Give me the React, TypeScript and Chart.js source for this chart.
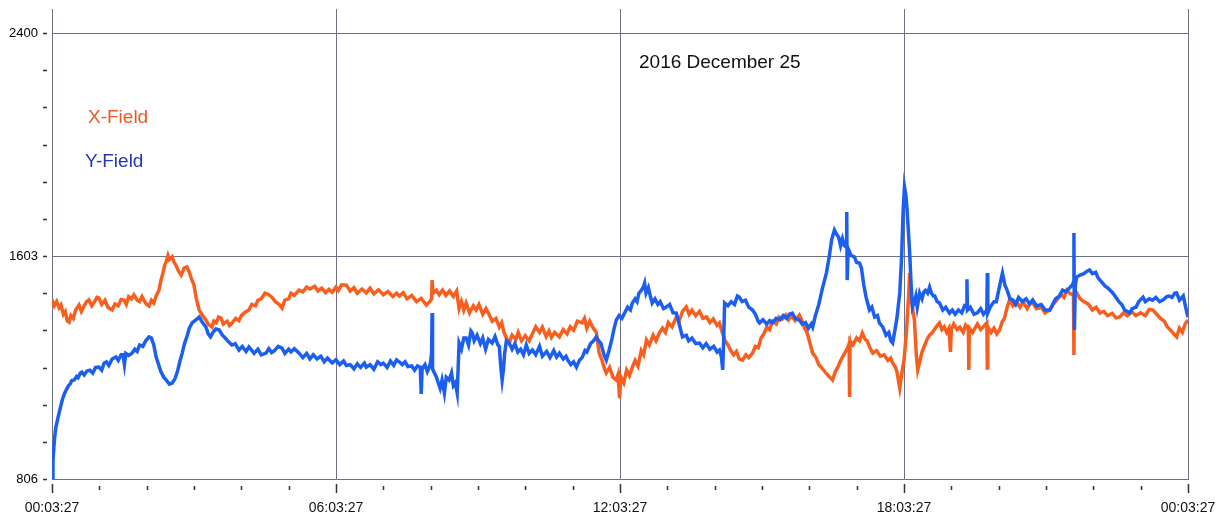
import React, { useEffect, useRef } from "react";
import { Chart, registerables } from "chart.js";

Chart.register(...registerables);

// ---------- DATA ----------
const X_TICK_LABELS = ["00:03:27", "06:03:27", "12:03:27", "18:03:27", "00:03:27"];
const Y_LABEL_VALUES = [806, 1603, 2400];
const CHART_TITLE = "2016 December 25";
const SERIES_NAMES = ["X-Field", "Y-Field"];

// X-Field (orange): [hours since 00:03:27, field value]
const X_FIELD_SAMPLES: number[][] = [
  [0, 1446], [0.05, 1425], [0.1, 1440], [0.15, 1418], [0.19, 1428], [0.24, 1395], [0.28, 1405], [0.32, 1372], [0.36, 1367], [0.4, 1390],
  [0.45, 1380], [0.5, 1410], [0.57, 1428], [0.62, 1405], [0.68, 1425], [0.73, 1440], [0.78, 1446], [0.84, 1425], [0.9, 1440], [0.95, 1455],
  [0.99, 1453], [1.05, 1430], [1.12, 1445], [1.18, 1420], [1.27, 1410], [1.33, 1432], [1.4, 1425], [1.46, 1448], [1.52, 1446], [1.57, 1430],
  [1.62, 1458], [1.68, 1450], [1.73, 1464], [1.8, 1445], [1.85, 1440], [1.9, 1458], [1.95, 1442], [2.0, 1430], [2.05, 1424], [2.1, 1445],
  [2.15, 1435], [2.2, 1460], [2.26, 1481], [2.3, 1515], [2.34, 1540], [2.38, 1570], [2.41, 1582], [2.45, 1605], [2.48, 1590], [2.54, 1600],
  [2.58, 1580], [2.62, 1570], [2.67, 1550], [2.73, 1535], [2.79, 1560], [2.85, 1564], [2.9, 1545], [2.95, 1520], [3.0, 1499], [3.05, 1450],
  [3.11, 1410], [3.18, 1390], [3.25, 1375], [3.3, 1360], [3.38, 1349], [3.42, 1370], [3.47, 1365], [3.52, 1385], [3.57, 1381], [3.62, 1360],
  [3.7, 1370], [3.75, 1355], [3.81, 1364], [3.88, 1380], [3.95, 1372], [4.0, 1390], [4.08, 1402], [4.16, 1410], [4.22, 1430], [4.3, 1425],
  [4.35, 1445], [4.42, 1450], [4.5, 1470], [4.59, 1464], [4.65, 1455], [4.72, 1440], [4.8, 1430], [4.86, 1417], [4.92, 1445], [5.0, 1450],
  [5.05, 1470], [5.12, 1462], [5.22, 1481], [5.3, 1475], [5.38, 1492], [5.45, 1485], [5.55, 1495], [5.62, 1478], [5.7, 1488], [5.78, 1472],
  [5.85, 1484], [5.92, 1474], [6.0, 1492], [6.05, 1480], [6.12, 1500], [6.22, 1499], [6.3, 1478], [6.38, 1490], [6.45, 1470], [6.55, 1485],
  [6.64, 1471], [6.72, 1488], [6.8, 1468], [6.9, 1482], [7.0, 1465], [7.1, 1476], [7.2, 1458], [7.28, 1470], [7.34, 1460], [7.42, 1472],
  [7.5, 1450], [7.6, 1462], [7.7, 1440], [7.8, 1452], [7.91, 1428], [7.98, 1440], [8.02, 1450], [8.03, 1517], [8.05, 1470], [8.12, 1480],
  [8.18, 1465], [8.25, 1481], [8.32, 1462], [8.4, 1478], [8.48, 1458], [8.55, 1478], [8.6, 1415], [8.65, 1440], [8.7, 1410], [8.75, 1435],
  [8.82, 1400], [8.9, 1425], [8.96, 1410], [9.02, 1430], [9.1, 1395], [9.17, 1415], [9.24, 1392], [9.3, 1370], [9.38, 1380], [9.45, 1349],
  [9.5, 1365], [9.55, 1330], [9.6, 1310], [9.66, 1292], [9.72, 1320], [9.8, 1305], [9.85, 1330], [9.92, 1300], [10.0, 1318], [10.08, 1300],
  [10.15, 1325], [10.22, 1350], [10.3, 1330], [10.36, 1349], [10.44, 1315], [10.5, 1335], [10.55, 1312], [10.62, 1330], [10.72, 1314], [10.8, 1340],
  [10.88, 1325], [10.95, 1350], [11.02, 1338], [11.1, 1370], [11.2, 1364], [11.25, 1380], [11.3, 1345], [11.36, 1370], [11.42, 1349], [11.5, 1330],
  [11.56, 1256], [11.62, 1230], [11.67, 1200], [11.71, 1185], [11.78, 1205], [11.85, 1170], [11.92, 1160], [11.96, 1180], [11.99, 1095], [12.02, 1170],
  [12.08, 1150], [12.14, 1195], [12.2, 1175], [12.26, 1206], [12.32, 1230], [12.38, 1210], [12.45, 1265], [12.5, 1250], [12.56, 1303], [12.62, 1285],
  [12.7, 1320], [12.76, 1300], [12.83, 1328], [12.9, 1345], [12.96, 1330], [13.02, 1365], [13.1, 1350], [13.19, 1385], [13.25, 1370], [13.32, 1405],
  [13.4, 1421], [13.46, 1395], [13.52, 1410], [13.6, 1390], [13.68, 1405], [13.75, 1380], [13.83, 1385], [13.9, 1365], [13.97, 1378], [14.05, 1355],
  [14.1, 1364], [14.16, 1330], [14.22, 1300], [14.28, 1285], [14.34, 1265], [14.4, 1250], [14.46, 1262], [14.52, 1235], [14.59, 1231], [14.66, 1250],
  [14.72, 1240], [14.8, 1256], [14.86, 1280], [14.92, 1275], [14.98, 1310], [15.04, 1325], [15.1, 1349], [15.16, 1340], [15.22, 1370], [15.3, 1360],
  [15.36, 1385], [15.43, 1378], [15.5, 1392], [15.56, 1375], [15.62, 1390], [15.7, 1372], [15.79, 1392], [15.85, 1370], [15.9, 1345], [15.95, 1330],
  [16.0, 1300], [16.07, 1256], [16.14, 1240], [16.2, 1215], [16.28, 1200], [16.35, 1185], [16.42, 1172], [16.49, 1160], [16.55, 1190], [16.6, 1205],
  [16.65, 1225], [16.7, 1242], [16.76, 1260], [16.81, 1275], [16.84, 1290], [16.85, 1099], [16.86, 1300], [16.92, 1285], [17.0, 1310], [17.06, 1300],
  [17.12, 1328], [17.18, 1305], [17.22, 1300], [17.28, 1275], [17.34, 1256], [17.42, 1265], [17.5, 1245], [17.58, 1250], [17.66, 1230], [17.72, 1238],
  [17.76, 1221], [17.82, 1205], [17.85, 1190], [17.88, 1160], [17.91, 1131], [17.95, 1180], [18.0, 1230], [18.05, 1328], [18.1, 1470], [18.12, 1542],
  [18.15, 1450], [18.22, 1374], [18.26, 1250], [18.29, 1196], [18.34, 1230], [18.38, 1260], [18.44, 1285], [18.48, 1303], [18.54, 1320], [18.6, 1330],
  [18.68, 1350], [18.75, 1364], [18.8, 1340], [18.85, 1350], [18.9, 1330], [18.95, 1345], [18.98, 1260], [19.0, 1340], [19.05, 1360], [19.12, 1340],
  [19.18, 1349], [19.25, 1330], [19.3, 1355], [19.36, 1340], [19.37, 1196], [19.38, 1345], [19.45, 1330], [19.55, 1360], [19.62, 1340], [19.7, 1355],
  [19.75, 1364], [19.76, 1203], [19.77, 1350], [19.84, 1330], [19.9, 1345], [19.96, 1325], [20.02, 1339], [20.08, 1370], [20.12, 1380], [20.18, 1420],
  [20.23, 1446], [20.3, 1425], [20.38, 1440], [20.45, 1420], [20.52, 1438], [20.6, 1415], [20.66, 1432], [20.72, 1435], [20.8, 1415], [20.9, 1420],
  [20.98, 1400], [21.08, 1410], [21.15, 1430], [21.25, 1450], [21.32, 1465], [21.38, 1455], [21.44, 1481], [21.5, 1470], [21.56, 1465], [21.58, 1460],
  [21.59, 1249], [21.6, 1470], [21.65, 1471], [21.72, 1450], [21.8, 1440], [21.9, 1430], [21.98, 1410], [22.06, 1420], [22.14, 1399], [22.22, 1405],
  [22.3, 1390], [22.4, 1398], [22.48, 1382], [22.56, 1385], [22.64, 1400], [22.72, 1390], [22.8, 1405], [22.9, 1390], [23.0, 1400], [23.1, 1390],
  [23.18, 1412], [23.26, 1410], [23.34, 1395], [23.42, 1380], [23.5, 1370], [23.56, 1350], [23.62, 1340], [23.7, 1325], [23.76, 1314], [23.82, 1345],
  [23.88, 1330], [23.94, 1360], [24, 1374],
];

// Y-Field (blue): [hours since 00:03:27, field value]
const Y_FIELD_SAMPLES: number[][] = [
  [0, 806], [0.02, 870], [0.04, 920], [0.06, 960], [0.08, 990], [0.12, 1020], [0.15, 1042], [0.19, 1070], [0.22, 1090], [0.26, 1110],
  [0.3, 1124], [0.35, 1140], [0.38, 1145], [0.42, 1158], [0.47, 1160], [0.52, 1172], [0.55, 1168], [0.6, 1185], [0.63, 1188], [0.68, 1178],
  [0.74, 1192], [0.8, 1195], [0.86, 1185], [0.92, 1205], [0.99, 1206], [1.05, 1195], [1.1, 1220], [1.15, 1225], [1.2, 1212], [1.27, 1235],
  [1.35, 1242], [1.4, 1230], [1.46, 1250], [1.5, 1250], [1.53, 1215], [1.56, 1255], [1.62, 1248], [1.69, 1256], [1.75, 1270], [1.8, 1262],
  [1.85, 1285], [1.92, 1280], [1.98, 1300], [2.05, 1314], [2.1, 1310], [2.15, 1285], [2.2, 1242], [2.3, 1190], [2.36, 1170], [2.41, 1160],
  [2.48, 1145], [2.54, 1149], [2.6, 1165], [2.65, 1190], [2.7, 1225], [2.75, 1256], [2.8, 1290], [2.86, 1320], [2.9, 1345], [2.96, 1364],
  [3.02, 1372], [3.08, 1380], [3.11, 1385], [3.18, 1365], [3.25, 1350], [3.3, 1325], [3.35, 1314], [3.4, 1330], [3.46, 1342], [3.53, 1339],
  [3.6, 1320], [3.66, 1310], [3.72, 1298], [3.8, 1285], [3.87, 1290], [3.95, 1267], [4.02, 1280], [4.1, 1262], [4.16, 1278], [4.2, 1270],
  [4.27, 1255], [4.35, 1270], [4.42, 1250], [4.52, 1256], [4.58, 1272], [4.64, 1258], [4.7, 1265], [4.78, 1280], [4.86, 1274], [4.92, 1255],
  [5.0, 1270], [5.05, 1260], [5.12, 1272], [5.22, 1256], [5.3, 1240], [5.38, 1255], [5.45, 1235], [5.52, 1250], [5.6, 1235], [5.68, 1245],
  [5.75, 1225], [5.82, 1238], [5.92, 1221], [6.0, 1232], [6.08, 1215], [6.16, 1228], [6.22, 1212], [6.3, 1215], [6.38, 1200], [6.45, 1218],
  [6.52, 1205], [6.6, 1220], [6.64, 1206], [6.72, 1215], [6.8, 1198], [6.88, 1225], [6.95, 1215], [7.0, 1220], [7.08, 1205], [7.15, 1228],
  [7.22, 1212], [7.28, 1232], [7.34, 1224], [7.4, 1215], [7.46, 1225], [7.52, 1208], [7.6, 1210], [7.66, 1195], [7.72, 1210], [7.78, 1206],
  [7.8, 1110], [7.82, 1200], [7.88, 1215], [7.93, 1190], [7.97, 1206], [8.0, 1225], [8.02, 1260], [8.03, 1399], [8.04, 1200], [8.08, 1185],
  [8.12, 1171], [8.16, 1150], [8.2, 1130], [8.24, 1160], [8.29, 1113], [8.33, 1170], [8.39, 1160], [8.44, 1185], [8.48, 1140], [8.52, 1150],
  [8.56, 1113], [8.58, 1200], [8.6, 1292], [8.65, 1270], [8.7, 1310], [8.75, 1310], [8.8, 1285], [8.85, 1335], [8.88, 1328], [8.92, 1300],
  [8.98, 1320], [9.05, 1290], [9.1, 1310], [9.16, 1270], [9.22, 1305], [9.3, 1292], [9.36, 1315], [9.42, 1285], [9.45, 1280], [9.48, 1210],
  [9.51, 1160], [9.54, 1200], [9.56, 1250], [9.6, 1300], [9.66, 1292], [9.72, 1270], [9.78, 1290], [9.84, 1260], [9.9, 1270], [9.96, 1250],
  [10.02, 1285], [10.08, 1255], [10.15, 1267], [10.22, 1250], [10.3, 1280], [10.36, 1245], [10.45, 1262], [10.52, 1240], [10.6, 1265], [10.66, 1242],
  [10.72, 1256], [10.8, 1235], [10.86, 1245], [10.9, 1230], [10.96, 1215], [11.02, 1225], [11.08, 1206], [11.14, 1230], [11.2, 1240], [11.26, 1265],
  [11.3, 1260], [11.38, 1290], [11.44, 1300], [11.5, 1314], [11.55, 1300], [11.6, 1290], [11.66, 1250], [11.71, 1231], [11.76, 1260], [11.82, 1300],
  [11.87, 1340], [11.92, 1374], [11.98, 1390], [12.04, 1380], [12.1, 1400], [12.16, 1420], [12.22, 1410], [12.26, 1435], [12.32, 1450], [12.36, 1440],
  [12.4, 1470], [12.45, 1480], [12.5, 1495], [12.52, 1506], [12.55, 1470], [12.6, 1490], [12.64, 1460], [12.68, 1435], [12.74, 1450], [12.8, 1430],
  [12.85, 1440], [12.92, 1415], [12.98, 1421], [13.05, 1430], [13.12, 1400], [13.19, 1399], [13.25, 1360], [13.32, 1314], [13.4, 1320], [13.45, 1300],
  [13.52, 1310], [13.6, 1290], [13.68, 1292], [13.75, 1275], [13.82, 1290], [13.9, 1270], [13.98, 1280], [14.05, 1260], [14.1, 1267], [14.14, 1245],
  [14.17, 1196], [14.19, 1300], [14.21, 1435], [14.28, 1425], [14.35, 1440], [14.42, 1430], [14.48, 1460], [14.52, 1456], [14.58, 1440], [14.65, 1445],
  [14.72, 1420], [14.8, 1410], [14.86, 1395], [14.92, 1370], [14.95, 1364], [15.02, 1375], [15.1, 1360], [15.16, 1372], [15.22, 1364], [15.3, 1380],
  [15.38, 1375], [15.45, 1390], [15.52, 1380], [15.58, 1395], [15.64, 1399], [15.7, 1380], [15.79, 1374], [15.85, 1360], [15.92, 1365], [15.98, 1345],
  [16.04, 1360], [16.07, 1349], [16.12, 1385], [16.2, 1430], [16.28, 1490], [16.36, 1542], [16.42, 1600], [16.47, 1660], [16.53, 1696], [16.58, 1680],
  [16.62, 1670], [16.66, 1640], [16.7, 1665], [16.74, 1640], [16.78, 1635], [16.79, 1760], [16.8, 1517], [16.82, 1630], [16.88, 1605], [16.95, 1600],
  [17.0, 1580], [17.06, 1578], [17.1, 1560], [17.15, 1500], [17.2, 1455], [17.27, 1410], [17.32, 1420], [17.38, 1385], [17.44, 1390], [17.48, 1364],
  [17.55, 1350], [17.62, 1320], [17.68, 1330], [17.72, 1300], [17.76, 1292], [17.8, 1330], [17.85, 1380], [17.91, 1471], [17.95, 1600], [17.98, 1760],
  [18.01, 1850], [18.04, 1820], [18.06, 1780], [18.09, 1700], [18.12, 1614], [18.15, 1500], [18.18, 1421], [18.22, 1440], [18.25, 1460], [18.28, 1420],
  [18.33, 1471], [18.38, 1450], [18.42, 1475], [18.45, 1480], [18.5, 1470], [18.54, 1492], [18.58, 1470], [18.62, 1460], [18.65, 1460], [18.7, 1440],
  [18.75, 1435], [18.82, 1410], [18.88, 1420], [18.96, 1399], [19.02, 1410], [19.08, 1395], [19.15, 1410], [19.22, 1400], [19.28, 1425], [19.32, 1421],
  [19.33, 1520], [19.34, 1410], [19.4, 1420], [19.48, 1395], [19.55, 1400], [19.62, 1415], [19.68, 1395], [19.75, 1410], [19.76, 1542], [19.77, 1400],
  [19.82, 1420], [19.9, 1440], [19.95, 1440], [20.0, 1480], [20.05, 1520], [20.08, 1542], [20.13, 1500], [20.18, 1480], [20.24, 1450], [20.3, 1446],
  [20.36, 1430], [20.42, 1455], [20.5, 1440], [20.58, 1450], [20.65, 1432], [20.72, 1446], [20.8, 1425], [20.9, 1430], [20.98, 1410], [21.08, 1410],
  [21.14, 1430], [21.2, 1450], [21.28, 1460], [21.35, 1481], [21.42, 1475], [21.5, 1490], [21.56, 1500], [21.58, 1510], [21.59, 1685], [21.6, 1339],
  [21.62, 1500], [21.65, 1528], [21.72, 1535], [21.8, 1540], [21.86, 1548], [21.92, 1553], [21.98, 1540], [22.05, 1545], [22.1, 1525], [22.14, 1517],
  [22.2, 1505], [22.25, 1495], [22.3, 1490], [22.36, 1480], [22.41, 1471], [22.48, 1455], [22.54, 1440], [22.6, 1430], [22.66, 1410], [22.72, 1405],
  [22.77, 1399], [22.82, 1415], [22.9, 1420], [22.96, 1440], [23.05, 1456], [23.1, 1440], [23.18, 1450], [23.25, 1445], [23.32, 1455], [23.4, 1440],
  [23.47, 1446], [23.55, 1458], [23.6, 1460], [23.66, 1455], [23.72, 1470], [23.76, 1471], [23.82, 1445], [23.9, 1460], [23.95, 1420], [24, 1385],
];

// ---------- STYLE ----------
const ORANGE = "#f85e1e";
const BLUE = "#1c5ff0";
const GRID = "#6c7080";
const Y_MIN = 806;
const Y_MAX = 2486;
const Y_STEP = (2400 - 806) / 12;
const FONT = "Liberation Sans, Arial, sans-serif";

const tickMarks = {
  id: "tickMarks",
  afterDraw(chart: any) {
    const ctx = chart.ctx;
    const xs = chart.scales.x;
    const ys = chart.scales.y;
    ctx.save();
    ctx.strokeStyle = "#333";
    ctx.lineWidth = 1.5;
    ctx.beginPath();
    for (let k = 0; k <= 12; k++) {
      const py = Math.round(ys.getPixelForValue(Y_MIN + k * Y_STEP));
      ctx.moveTo(43, py + 0.5);
      ctx.lineTo(47, py + 0.5);
    }
    for (let h = 0; h <= 24; h++) {
      const px = Math.round(xs.getPixelForValue(h)) + 0.5;
      if (h % 6 === 0) {
        ctx.moveTo(px, 484);
        ctx.lineTo(px, 493);
      } else {
        ctx.moveTo(px, 486);
        ctx.lineTo(px, 490);
      }
    }
    ctx.stroke();
    ctx.restore();
  },
};

export default function App() {
  const ref = useRef<HTMLCanvasElement>(null);
  useEffect(() => {
    if (!ref.current) return;
    const chart = new Chart(ref.current, {
      type: "line",
      data: {
        datasets: [
          {
            label: SERIES_NAMES[1],
            data: Y_FIELD_SAMPLES.map((p) => ({ x: p[0], y: p[1] })),
            borderColor: BLUE,
            borderWidth: 3.5,
            pointRadius: 0,
            tension: 0,
            order: 0,
          },
          {
            label: SERIES_NAMES[0],
            data: X_FIELD_SAMPLES.map((p) => ({ x: p[0], y: p[1] })),
            borderColor: ORANGE,
            borderWidth: 3.5,
            pointRadius: 0,
            tension: 0,
            order: 1,
          },
        ],
      },
      options: {
        animation: false,
        responsive: true,
        maintainAspectRatio: false,
        layout: { padding: { top: 9, right: 28, left: 0, bottom: 0 } },
        plugins: { legend: { display: false }, tooltip: { enabled: false }, title: { display: false } },
        scales: {
          x: {
            type: "linear",
            min: 0,
            max: 24,
            afterFit: (s: any) => {
              s.height = 37;
              s.paddingLeft = 0;
              s.paddingRight = 0;
            },
            ticks: {
              stepSize: 1,
              autoSkip: false,
              maxRotation: 0,
              padding: 21,
              color: "#111",
              font: { family: FONT, size: 14 },
              callback: (v: any) => (Number(v) % 6 === 0 ? X_TICK_LABELS[Number(v) / 6] : ""),
            },
            grid: {
              drawTicks: false,
              lineWidth: 1,
              color: (c: any) => (c.tick && c.tick.value % 6 === 0 && c.tick.value !== 0 ? GRID : "rgba(0,0,0,0)"),
            },
            border: { display: true, color: GRID, width: 1 },
          },
          y: {
            type: "linear",
            min: Y_MIN,
            max: Y_MAX,
            afterFit: (s: any) => {
              s.width = 52;
              s.paddingTop = 0;
              s.paddingBottom = 0;
            },
            afterBuildTicks: (s: any) => {
              const t = [];
              for (let k = 0; k <= 12; k++) t.push({ value: Y_MIN + k * Y_STEP });
              s.ticks = t;
            },
            ticks: {
              padding: 14,
              color: "#000",
              font: { family: FONT, size: 13 },
              callback: (v: any) => {
                const r = Math.round(Number(v));
                return Y_LABEL_VALUES.includes(r) ? String(r) : "";
              },
            },
            grid: {
              drawTicks: false,
              lineWidth: 1,
              color: (c: any) => {
                const r = c.tick ? Math.round(c.tick.value) : 0;
                return r === 1603 || r === 2400 ? GRID : "rgba(0,0,0,0)";
              },
            },
            border: { display: true, color: GRID, width: 1 },
          },
        },
      },
      plugins: [tickMarks],
    });
    return () => chart.destroy();
  }, []);

  const textStyle: React.CSSProperties = {
    position: "absolute",
    fontFamily: FONT,
    fontSize: 19,
    lineHeight: "22px",
    whiteSpace: "nowrap",
  };

  return (
    <div style={{ position: "fixed", left: 0, top: 0, width: 1216, height: 516, background: "#fff" }}>
      <canvas ref={ref} />
      <div style={{ ...textStyle, left: 639, top: 51, color: "#111" }}>{CHART_TITLE}</div>
      <div style={{ ...textStyle, left: 88, top: 106, color: "#ea5a22" }}>{SERIES_NAMES[0]}</div>
      <div style={{ ...textStyle, left: 85, top: 150, color: "#2636b8" }}>{SERIES_NAMES[1]}</div>
    </div>
  );
}
